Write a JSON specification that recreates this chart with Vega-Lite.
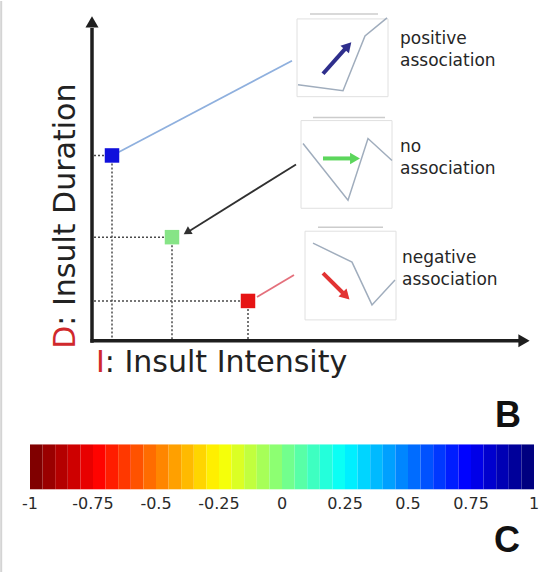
{
  "$schema": "https://vega.github.io/schema/vega-lite/v6.json",
  "width": 549,
  "height": 573,
  "autosize": {"type": "fit", "contains": "padding"},
  "padding": 0,
  "background": "#ffffff",
  "config": {
    "view": {"stroke": null},
    "axis": {"disable": true},
    "legend": {"disable": true},
    "font": "DejaVu Sans"
  },
  "datasets": {
    "states": [
      {"assoc": "positive", "i": 0.5, "d": 4.65},
      {"assoc": "none", "i": 2.0, "d": 2.6},
      {"assoc": "negative", "i": 3.9, "d": 1.0}
    ],
    "bands": [
      {"lo": -1, "hi": -0.95}, {"lo": -0.95, "hi": -0.9}, {"lo": -0.9, "hi": -0.85}, {"lo": -0.85, "hi": -0.8},
      {"lo": -0.8, "hi": -0.75}, {"lo": -0.75, "hi": -0.7}, {"lo": -0.7, "hi": -0.65}, {"lo": -0.65, "hi": -0.6},
      {"lo": -0.6, "hi": -0.55}, {"lo": -0.55, "hi": -0.5}, {"lo": -0.5, "hi": -0.45}, {"lo": -0.45, "hi": -0.4},
      {"lo": -0.4, "hi": -0.35}, {"lo": -0.35, "hi": -0.3}, {"lo": -0.3, "hi": -0.25}, {"lo": -0.25, "hi": -0.2},
      {"lo": -0.2, "hi": -0.15}, {"lo": -0.15, "hi": -0.1}, {"lo": -0.1, "hi": -0.05}, {"lo": -0.05, "hi": 0},
      {"lo": 0, "hi": 0.05}, {"lo": 0.05, "hi": 0.1}, {"lo": 0.1, "hi": 0.15}, {"lo": 0.15, "hi": 0.2},
      {"lo": 0.2, "hi": 0.25}, {"lo": 0.25, "hi": 0.3}, {"lo": 0.3, "hi": 0.35}, {"lo": 0.35, "hi": 0.4},
      {"lo": 0.4, "hi": 0.45}, {"lo": 0.45, "hi": 0.5}, {"lo": 0.5, "hi": 0.55}, {"lo": 0.55, "hi": 0.6},
      {"lo": 0.6, "hi": 0.65}, {"lo": 0.65, "hi": 0.7}, {"lo": 0.7, "hi": 0.75}, {"lo": 0.75, "hi": 0.8},
      {"lo": 0.8, "hi": 0.85}, {"lo": 0.85, "hi": 0.9}, {"lo": 0.9, "hi": 0.95}, {"lo": 0.95, "hi": 1}
    ]
  },
  "resolve": {"scale": {"x": "independent", "color": "independent", "fill": "independent"}},
  "layer": [
    {
      "layer": [
        {
          "data": {"values": [{"i": -2.27, "d": -5.8, "d2": 8.525}]},
          "mark": {"type": "rule", "color": "#d4d4d4", "strokeWidth": 2},
          "encoding": {
            "x": {"field": "i", "type": "quantitative", "scale": {"domain": [-2.3, 11.425], "nice": false, "zero": false}},
            "y": {"field": "d", "type": "quantitative", "scale": {"domain": [-5.8, 8.525], "nice": false, "zero": false}},
            "y2": {"field": "d2"}
          }
        },
        {
          "data": {"values": [
            {"assoc": "positive", "i": 5.125, "i2": 7.4, "d": 6.125, "d2": 8.075},
            {"assoc": "none", "i": 5.225, "i2": 7.5, "d": 3.325, "d2": 5.525},
            {"assoc": "negative", "i": 5.325, "i2": 7.6, "d": 0.525, "d2": 2.75}
          ]},
          "mark": {"type": "rect", "fill": "#ffffff", "stroke": "#e0e0e0", "strokeWidth": 1},
          "encoding": {
            "x": {"field": "i", "type": "quantitative", "scale": {"domain": [-2.3, 11.425], "nice": false, "zero": false}},
            "x2": {"field": "i2"},
            "y": {"field": "d", "type": "quantitative", "scale": {"domain": [-5.8, 8.525], "nice": false, "zero": false}},
            "y2": {"field": "d2"}
          }
        },
        {
          "data": {"values": [
            {"i": 5.45, "i2": 7.15, "d": 8.2},
            {"i": 5.525, "i2": 7.325, "d": 5.6},
            {"i": 5.65, "i2": 7.275, "d": 2.85}
          ]},
          "mark": {"type": "rule", "color": "#cccccc", "strokeWidth": 1.5},
          "encoding": {
            "x": {"field": "i", "type": "quantitative", "scale": {"domain": [-2.3, 11.425], "nice": false, "zero": false}},
            "x2": {"field": "i2"},
            "y": {"field": "d", "type": "quantitative", "scale": {"domain": [-5.8, 8.525], "nice": false, "zero": false}}
          }
        },
        {
          "data": {"values": [
            {"assoc": "positive", "i": 5.15, "d": 6.425},
            {"assoc": "positive", "i": 6.275, "d": 6.275},
            {"assoc": "positive", "i": 6.825, "d": 7.65},
            {"assoc": "positive", "i": 7.375, "d": 8.1},
            {"assoc": "none", "i": 5.275, "d": 4.95},
            {"assoc": "none", "i": 6.4, "d": 3.525},
            {"assoc": "none", "i": 6.9, "d": 5.075},
            {"assoc": "none", "i": 7.5, "d": 4.525},
            {"assoc": "negative", "i": 5.525, "d": 2.45},
            {"assoc": "negative", "i": 6.5, "d": 1.975},
            {"assoc": "negative", "i": 7.0, "d": 0.9},
            {"assoc": "negative", "i": 7.575, "d": 1.525}
          ]},
          "mark": {"type": "line", "color": "#a0adbd", "strokeWidth": 1.5},
          "encoding": {
            "x": {"field": "i", "type": "quantitative", "scale": {"domain": [-2.3, 11.425], "nice": false, "zero": false}},
            "y": {"field": "d", "type": "quantitative", "scale": {"domain": [-5.8, 8.525], "nice": false, "zero": false}},
            "detail": {"field": "assoc"}
          }
        },
        {
          "data": {"name": "states"},
          "mark": {"type": "rule", "color": "#4a4a4a", "strokeWidth": 1.5, "strokeDash": [2, 2]},
          "encoding": {
            "x": {"field": "i", "type": "quantitative", "scale": {"domain": [-2.3, 11.425], "nice": false, "zero": false}},
            "y": {"field": "d", "type": "quantitative", "scale": {"domain": [-5.8, 8.525], "nice": false, "zero": false}},
            "y2": {"datum": 0}
          }
        },
        {
          "data": {"name": "states"},
          "mark": {"type": "rule", "color": "#4a4a4a", "strokeWidth": 1.5, "strokeDash": [2, 2]},
          "encoding": {
            "x": {"field": "i", "type": "quantitative", "scale": {"domain": [-2.3, 11.425], "nice": false, "zero": false}},
            "x2": {"datum": 0},
            "y": {"field": "d", "type": "quantitative", "scale": {"domain": [-5.8, 8.525], "nice": false, "zero": false}}
          }
        },
        {
          "data": {"values": [
            {"assoc": "positive", "i": 0.65, "d": 4.725, "i2": 5.0, "d2": 7.025},
            {"assoc": "none", "i": 2.425, "d": 2.75, "i2": 5.1, "d2": 4.425},
            {"assoc": "negative", "i": 4.125, "d": 1.1, "i2": 5.05, "d2": 1.65}
          ]},
          "mark": {"type": "rule", "strokeWidth": 1.8},
          "encoding": {
            "x": {"field": "i", "type": "quantitative", "scale": {"domain": [-2.3, 11.425], "nice": false, "zero": false}},
            "x2": {"field": "i2"},
            "y": {"field": "d", "type": "quantitative", "scale": {"domain": [-5.8, 8.525], "nice": false, "zero": false}},
            "y2": {"field": "d2"},
            "stroke": {"field": "assoc", "type": "nominal", "scale": {"domain": ["positive", "none", "negative"], "range": ["#8fb0de", "#303030", "#e4707c"]}}
          }
        },
        {
          "data": {"values": [{"i": 2.375, "d": 2.725}]},
          "mark": {"type": "point", "shape": "triangle-up", "filled": true, "size": 80, "angle": 238, "color": "#303030", "opacity": 1},
          "encoding": {
            "x": {"field": "i", "type": "quantitative", "scale": {"domain": [-2.3, 11.425], "nice": false, "zero": false}},
            "y": {"field": "d", "type": "quantitative", "scale": {"domain": [-5.8, 8.525], "nice": false, "zero": false}}
          }
        },
        {
          "data": {"values": [
            {"i": 0, "d": -0.05, "i2": 0, "d2": 7.85},
            {"i": -0.04, "d": 0, "i2": 10.7, "d2": 0}
          ]},
          "mark": {"type": "rule", "color": "#1e1e1e", "strokeWidth": 3.5},
          "encoding": {
            "x": {"field": "i", "type": "quantitative", "scale": {"domain": [-2.3, 11.425], "nice": false, "zero": false}},
            "x2": {"field": "i2"},
            "y": {"field": "d", "type": "quantitative", "scale": {"domain": [-5.8, 8.525], "nice": false, "zero": false}},
            "y2": {"field": "d2"}
          }
        },
        {
          "data": {"values": [{"i": 0, "d": 8.0}]},
          "mark": {"type": "point", "shape": "triangle-up", "filled": true, "size": 170, "color": "#1e1e1e", "opacity": 1},
          "encoding": {
            "x": {"field": "i", "type": "quantitative", "scale": {"domain": [-2.3, 11.425], "nice": false, "zero": false}},
            "y": {"field": "d", "type": "quantitative", "scale": {"domain": [-5.8, 8.525], "nice": false, "zero": false}}
          }
        },
        {
          "data": {"values": [{"i": 10.8, "d": 0}]},
          "mark": {"type": "point", "shape": "triangle-right", "filled": true, "size": 170, "color": "#1e1e1e", "opacity": 1},
          "encoding": {
            "x": {"field": "i", "type": "quantitative", "scale": {"domain": [-2.3, 11.425], "nice": false, "zero": false}},
            "y": {"field": "d", "type": "quantitative", "scale": {"domain": [-5.8, 8.525], "nice": false, "zero": false}}
          }
        },
        {
          "data": {"name": "states"},
          "mark": {"type": "point", "shape": "square", "filled": true, "size": 210, "opacity": 1},
          "encoding": {
            "x": {"field": "i", "type": "quantitative", "scale": {"domain": [-2.3, 11.425], "nice": false, "zero": false}},
            "y": {"field": "d", "type": "quantitative", "scale": {"domain": [-5.8, 8.525], "nice": false, "zero": false}},
            "fill": {"field": "assoc", "type": "nominal", "scale": {"domain": ["positive", "none", "negative"], "range": ["#1010dc", "#86e486", "#e61414"]}}
          }
        },
        {
          "data": {"values": [
            {"assoc": "positive", "i": 5.775, "d": 6.7, "i2": 6.35, "d2": 7.35},
            {"assoc": "none", "i": 5.775, "d": 4.575, "i2": 6.5, "d2": 4.575},
            {"assoc": "negative", "i": 5.775, "d": 1.7, "i2": 6.275, "d2": 1.2}
          ]},
          "mark": {"type": "rule", "strokeWidth": 4},
          "encoding": {
            "x": {"field": "i", "type": "quantitative", "scale": {"domain": [-2.3, 11.425], "nice": false, "zero": false}},
            "x2": {"field": "i2"},
            "y": {"field": "d", "type": "quantitative", "scale": {"domain": [-5.8, 8.525], "nice": false, "zero": false}},
            "y2": {"field": "d2"},
            "color": {"field": "assoc", "type": "nominal", "scale": {"domain": ["positive", "none", "negative"], "range": ["#2e2e8c", "#5cd65c", "#e23232"]}}
          }
        },
        {
          "data": {"values": [
            {"assoc": "positive", "i": 6.4, "d": 7.4, "dir": 42},
            {"assoc": "none", "i": 6.575, "d": 4.575, "dir": 90},
            {"assoc": "negative", "i": 6.35, "d": 1.125, "dir": 135}
          ]},
          "mark": {"type": "point", "shape": "triangle-up", "filled": true, "size": 130, "opacity": 1},
          "encoding": {
            "x": {"field": "i", "type": "quantitative", "scale": {"domain": [-2.3, 11.425], "nice": false, "zero": false}},
            "y": {"field": "d", "type": "quantitative", "scale": {"domain": [-5.8, 8.525], "nice": false, "zero": false}},
            "angle": {"field": "dir", "type": "quantitative", "scale": {"domain": [0, 360], "range": [0, 360]}},
            "color": {"field": "assoc", "type": "nominal", "scale": {"domain": ["positive", "none", "negative"], "range": ["#2e2e8c", "#5cd65c", "#e23232"]}}
          }
        },
        {
          "data": {"values": [
            {"i": 7.7, "d": 7.45, "label": "positive\nassociation"},
            {"i": 7.7, "d": 4.725, "label": "no\nassociation"},
            {"i": 7.75, "d": 1.95, "label": "negative\nassociation"}
          ]},
          "mark": {"type": "text", "align": "left", "baseline": "alphabetic", "fontSize": 17, "lineBreak": "\n", "lineHeight": 22, "color": "#262626"},
          "encoding": {
            "x": {"field": "i", "type": "quantitative", "scale": {"domain": [-2.3, 11.425], "nice": false, "zero": false}},
            "y": {"field": "d", "type": "quantitative", "scale": {"domain": [-5.8, 8.525], "nice": false, "zero": false}},
            "text": {"field": "label"}
          }
        },
        {
          "data": {"values": [{"i": -0.425, "d": -0.2, "t": "D"}]},
          "mark": {"type": "text", "align": "left", "baseline": "alphabetic", "fontSize": 30, "angle": 270, "color": "#d0282c"},
          "encoding": {
            "x": {"field": "i", "type": "quantitative", "scale": {"domain": [-2.3, 11.425], "nice": false, "zero": false}},
            "y": {"field": "d", "type": "quantitative", "scale": {"domain": [-5.8, 8.525], "nice": false, "zero": false}},
            "text": {"field": "t"}
          }
        },
        {
          "data": {"values": [{"i": -0.425, "d": -0.2, "t": ": Insult Duration"}]},
          "mark": {"type": "text", "align": "left", "baseline": "alphabetic", "fontSize": 30, "angle": 270, "dx": 23.1, "color": "#222222"},
          "encoding": {
            "x": {"field": "i", "type": "quantitative", "scale": {"domain": [-2.3, 11.425], "nice": false, "zero": false}},
            "y": {"field": "d", "type": "quantitative", "scale": {"domain": [-5.8, 8.525], "nice": false, "zero": false}},
            "text": {"field": "t"}
          }
        },
        {
          "data": {"values": [{"i": 0.1, "d": -0.775, "t": "I"}]},
          "mark": {"type": "text", "align": "left", "baseline": "alphabetic", "fontSize": 30, "color": "#d0282c"},
          "encoding": {
            "x": {"field": "i", "type": "quantitative", "scale": {"domain": [-2.3, 11.425], "nice": false, "zero": false}},
            "y": {"field": "d", "type": "quantitative", "scale": {"domain": [-5.8, 8.525], "nice": false, "zero": false}},
            "text": {"field": "t"}
          }
        },
        {
          "data": {"values": [{"i": 0.1, "d": -0.775, "t": ": Insult Intensity"}]},
          "mark": {"type": "text", "align": "left", "baseline": "alphabetic", "fontSize": 30, "dx": 8.85, "color": "#222222"},
          "encoding": {
            "x": {"field": "i", "type": "quantitative", "scale": {"domain": [-2.3, 11.425], "nice": false, "zero": false}},
            "y": {"field": "d", "type": "quantitative", "scale": {"domain": [-5.8, 8.525], "nice": false, "zero": false}},
            "text": {"field": "t"}
          }
        },
        {
          "data": {"values": [
            {"i": 10.4, "d": -2.15, "t": "B"},
            {"i": 10.375, "d": -5.3, "t": "C"}
          ]},
          "mark": {"type": "text", "align": "center", "baseline": "alphabetic", "fontSize": 36, "fontWeight": "bold", "font": "Liberation Sans", "color": "#111111"},
          "encoding": {
            "x": {"field": "i", "type": "quantitative", "scale": {"domain": [-2.3, 11.425], "nice": false, "zero": false}},
            "y": {"field": "d", "type": "quantitative", "scale": {"domain": [-5.8, 8.525], "nice": false, "zero": false}},
            "text": {"field": "t"}
          }
        }
      ]
    },
    {
      "layer": [
        {
          "data": {"name": "bands"},
          "mark": {"type": "rect", "strokeWidth": 0},
          "encoding": {
            "x": {"field": "lo", "type": "quantitative", "scale": {"domain": [-1.119, 1.0595], "nice": false, "zero": false}},
            "x2": {"field": "hi"},
            "y": {"datum": -2.6, "type": "quantitative", "scale": {"domain": [-5.8, 8.525], "nice": false, "zero": false}},
            "y2": {"datum": -3.725},
            "fill": {"field": "lo", "type": "quantitative", "scale": {"domain": [-1, -0.75625, -0.26875, 0.21875, 0.70625, 0.95], "range": ["#800000", "#ff0000", "#ffff00", "#00ffff", "#0000ff", "#000080"], "interpolate": "rgb"}}
          }
        },
        {
          "data": {"values": [
            {"v": -1, "lab": "-1"}, {"v": -0.75, "lab": "-0.75"}, {"v": -0.5, "lab": "-0.5"},
            {"v": -0.25, "lab": "-0.25"}, {"v": 0, "lab": "0"}, {"v": 0.25, "lab": "0.25"},
            {"v": 0.5, "lab": "0.5"}, {"v": 0.75, "lab": "0.75"}, {"v": 1, "lab": "1"}
          ]},
          "mark": {"type": "text", "align": "center", "baseline": "alphabetic", "fontSize": 16, "color": "#2a2a2a"},
          "encoding": {
            "x": {"field": "v", "type": "quantitative", "scale": {"domain": [-1.119, 1.0595], "nice": false, "zero": false}},
            "y": {"datum": -4.225, "type": "quantitative", "scale": {"domain": [-5.8, 8.525], "nice": false, "zero": false}},
            "text": {"field": "lab"}
          }
        }
      ]
    }
  ]
}
